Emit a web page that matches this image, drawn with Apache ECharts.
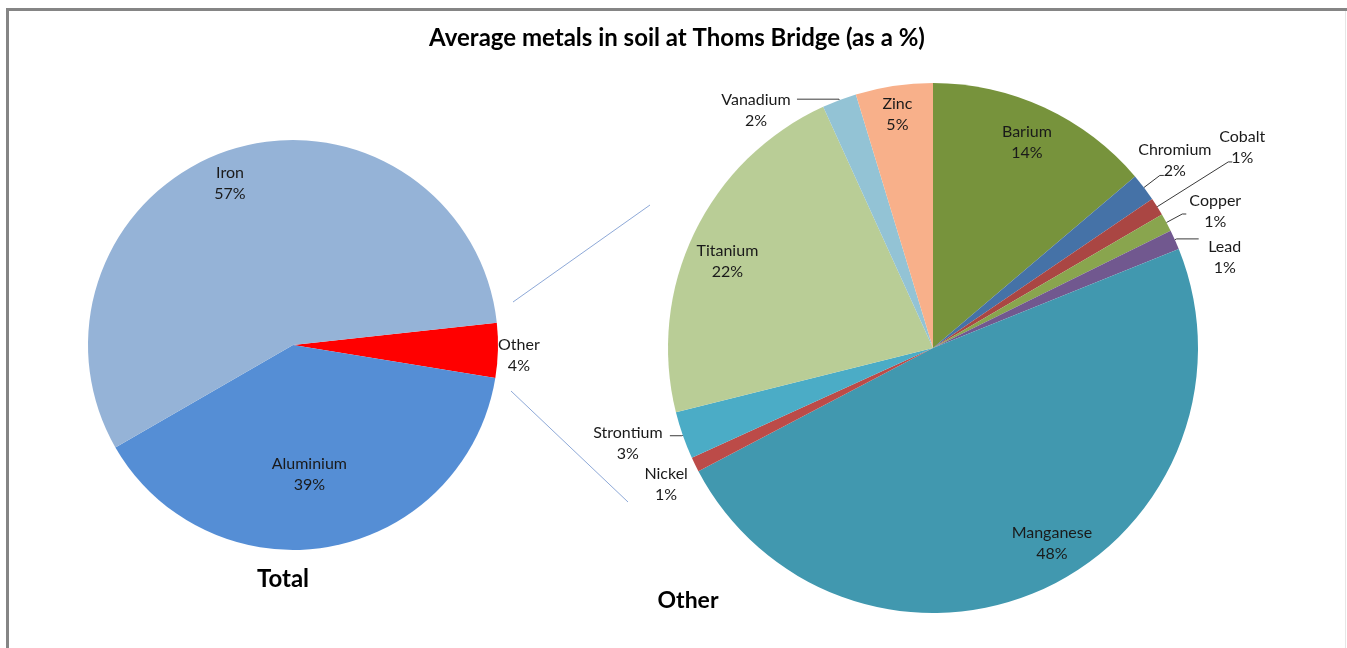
<!DOCTYPE html>
<html><head><meta charset="utf-8">
<script src="https://cdn.jsdelivr.net/npm/echarts@6/dist/echarts.min.js"></script>
<style>html,body{margin:0;padding:0;background:#fff}#c{width:1347px;height:648px}</style>
</head><body><div id="c"></div>
<script>
// ---------- data ----------
const chartTitle = 'Average metals in soil at Thoms Bridge (as a %)';
const pieTitles = ['Total', 'Other'];
const totalNames = ['Other', 'Aluminium', 'Iron'];
const totalValues = [4.3, 39.1, 56.6];
const otherNames = ['Barium', 'Chromium', 'Cobalt', 'Copper', 'Lead', 'Manganese', 'Nickel', 'Strontium', 'Titanium', 'Vanadium', 'Zinc'];
const otherValues = [13.8, 1.7, 1.1, 1.1, 1.2, 48.4, 0.9, 2.9, 22.1, 2.1, 4.7];

// ---------- styles ----------
const colors = {
  Other: '#FF0000', Aluminium: '#558ED5', Iron: '#95B3D7',
  Barium: '#77933C', Chromium: '#4572A7', Cobalt: '#AA4643', Copper: '#89A54E',
  Lead: '#71588F', Manganese: '#4198AF', Nickel: '#BC4B48', Strontium: '#4BACC6',
  Titanium: '#B9CD96', Vanadium: '#93C3D5', Zinc: '#F8B08A'
};
const FONT = 'Lato, "Open Sans", sans-serif';
const TXT = '#1a1a1a';
const leftPie = { center: [293, 345], r: 205, startAngle: 6.2 };
const rightPie = { center: [933, 348], r: 265, startAngle: 90 };
// label placement (offsets from library positions), line lengths
const outsideCfg = {
  Other:     { len: 1,  len2: 0,  line: false, dx: 15,  dy: 4.5 },
  Chromium:  { len: 20, len2: 4,  line: true,  dx: 6,   dy: -15 },
  Cobalt:    { len: 84, len2: 4,  line: true,  dx: 5,   dy: -15 },
  Copper:    { len: 18, len2: 4,  line: true,  dx: 24,  dy: -3 },
  Lead:      { len: 2,  len2: 22, line: true,  dx: 21,  dy: 18 },
  Vanadium:  { len: 1,  len2: 42, line: true,  dx: -36, dy: 11 },
  Strontium: { len: 1,  len2: 12, line: true,  dx: -37, dy: 8 },
  Nickel:    { len: 1,  len2: 0,  line: false, dx: -23, dy: 19 }
};
const insideCfg = {
  Iron:      { ring: 0.70, dx: -8, dy: 6.5 },
  Aluminium: { ring: 0.24, dx: -7, dy: 1 },
  Barium:    { ring: 0.70, dx: -2, dy: 1 },
  Manganese: { ring: 0.70, dx: 23, dy: -12 },
  Titanium:  { ring: 0.70, dx: 0,  dy: 12 },
  Zinc:      { ring: 0.70, dx: -2, dy: -8 }
};

const labelBase = {
  fontFamily: FONT, fontSize: 16, lineHeight: 21, color: TXT,
  formatter: '{b}\n{d}%'
};

function mainSeries(names, values, pie) {
  return {
    type: 'pie', center: pie.center, radius: pie.r, startAngle: pie.startAngle,
    clockwise: true, avoidLabelOverlap: false, percentPrecision: 0,
    animation: false, silent: true,
    label: Object.assign({ show: true, position: 'outside', distanceToLabelLine: 5 }, labelBase),
    labelLine: { show: true, length: 10, length2: 10, lineStyle: { color: '#3a3a3a', width: 1 } },
    itemStyle: { borderWidth: 0 },
    data: names.map((n, i) => {
      const c = outsideCfg[n];
      const item = { name: n, value: values[i], itemStyle: { color: colors[n] } };
      if (c) {
        item.label = { show: true };
        item.labelLine = { show: c.line, length: c.len, length2: c.len2 };
      } else {
        item.label = { show: false };
        item.labelLine = { show: false };
      }
      return item;
    }),
    labelLayout: function (p) {
      const c = outsideCfg[names[p.dataIndex]];
      if (!c) return {};
      return { dx: c.dx, dy: c.dy, align: 'center' };
    }
  };
}

function ringSeries(names, values, pie, ring) {
  return {
    type: 'pie', center: pie.center, radius: [pie.r * ring, pie.r], startAngle: pie.startAngle,
    clockwise: true, avoidLabelOverlap: false, percentPrecision: 0,
    animation: false, silent: true, z: 5,
    label: Object.assign({ show: true, position: 'inside' }, labelBase),
    labelLine: { show: false },
    itemStyle: { color: 'rgba(0,0,0,0)', borderWidth: 0 },
    data: names.map((n, i) => {
      const c = insideCfg[n];
      return { name: n, value: values[i], label: { show: !!(c && c.ring === ring) } };
    }),
    labelLayout: function (p) {
      const c = insideCfg[names[p.dataIndex]];
      if (!c || c.ring !== ring) return {};
      return { dx: c.dx, dy: c.dy };
    }
  };
}

const chart = echarts.init(document.getElementById('c'), null, { renderer: 'canvas' });
chart.setOption({
  backgroundColor: '#ffffff',
  animation: false,
  graphic: [
    { type: 'rect', shape: { x: 6, y: 8, width: 1341, height: 3 }, style: { fill: '#858585' }, silent: true },
    { type: 'rect', shape: { x: 6, y: 8, width: 3, height: 640 }, style: { fill: '#858585' }, silent: true },
    { type: 'rect', shape: { x: 1345, y: 11, width: 1, height: 637 }, style: { fill: '#e6e6e6' }, silent: true },
    { type: 'line', shape: { x1: 513, y1: 302, x2: 650, y2: 205 }, style: { stroke: '#8EA9D8', lineWidth: 1 }, silent: true },
    { type: 'line', shape: { x1: 511, y1: 391, x2: 628, y2: 502 }, style: { stroke: '#8EA9D8', lineWidth: 1 }, silent: true },
    { type: 'text', x: 677, y: 38, style: { text: chartTitle, font: 'bold 24px ' + FONT, fill: '#000', align: 'center', verticalAlign: 'middle' } },
    { type: 'text', x: 283, y: 579, style: { text: pieTitles[0], font: 'bold 24px ' + FONT, fill: '#000', align: 'center', verticalAlign: 'middle' } },
    { type: 'text', x: 688, y: 601, style: { text: pieTitles[1], font: 'bold 23px ' + FONT, fill: '#000', align: 'center', verticalAlign: 'middle' } }
  ],
  series: [
    mainSeries(totalNames, totalValues, leftPie),
    ringSeries(totalNames, totalValues, leftPie, 0.70),
    ringSeries(totalNames, totalValues, leftPie, 0.24),
    mainSeries(otherNames, otherValues, rightPie),
    ringSeries(otherNames, otherValues, rightPie, 0.70)
  ]
});
</script>
</body></html>
